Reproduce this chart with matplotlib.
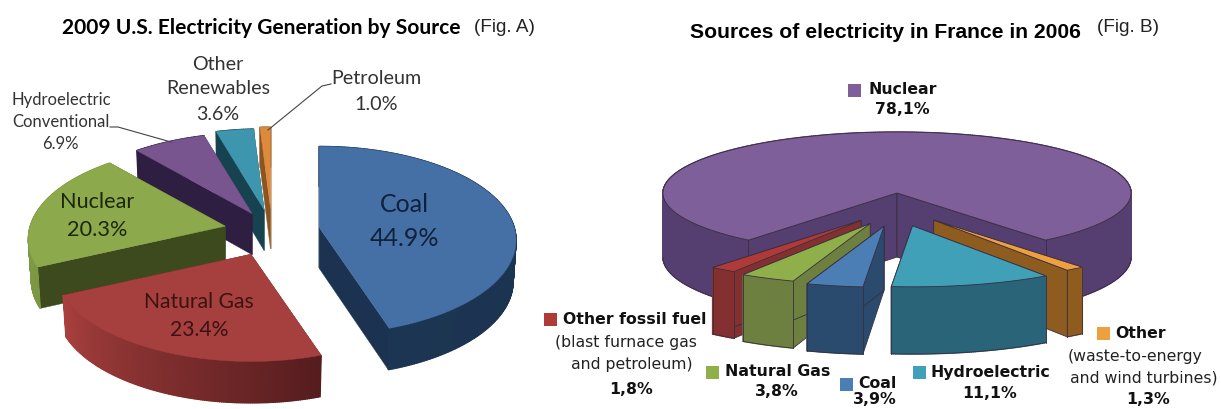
import numpy as np
import matplotlib
matplotlib.use("Agg")
import matplotlib.pyplot as plt
from matplotlib.colors import to_rgb

# ---------- data ----------
us_sources = ["Coal", "Natural Gas", "Nuclear", "Hydroelectric Conventional", "Other Renewables", "Petroleum"]
us_values = [44.9, 23.4, 20.3, 6.9, 3.6, 1.0]
fr_sources = ["Nuclear", "Other", "Hydroelectric", "Coal", "Natural Gas", "Other fossil fuel"]
fr_values = [78.1, 1.3, 11.1, 3.9, 3.8, 1.8]

# ---------- styles ----------
us_top = ["#4570A6", "#A5403F", "#8CA94C", "#79558F", "#3E95AE", "#DE8A3C"]
us_face = ["#1B3350", "#5A1F20", "#3D4A1D", "#2E1E42", "#17424F", "#8A5520"]
us_wall_a = ["#1C3552", "#A8403E", "#84A047", "#2E1E42", "#17424F", "#8A5520"]
us_wall_b = ["#1A314C", "#561C1E", "#7C9643", "#2E1E42", "#17424F", "#8A5520"]
us_explode = [0.245, 0.27, 0.245, 0.21, 0.23, 0.245]
fr_top = ["#7E5F9A", "#EFA03E", "#3FA0B8", "#4A7EB5", "#8FAF4A", "#B03A38"]
fr_face = ["#553F70", "#8F5C20", "#2A6478", "#2A4A6E", "#6E8040", "#843030"]
fr_explode = [0, .26, .26, .26, .26, .26]

fig = plt.figure(figsize=(12.21, 4.09), dpi=100)
ax = fig.add_axes([0, 0, 1, 1])
ax.set_xlim(0, 1221)
ax.set_ylim(409, 0)
ax.axis("off")


def draw_pie(values, cx, cy, rx, ry, depth, persp, explode, ky, shrink, start,
             tops, faces, walls_a, walls_b, order, edge=None):
    vals = np.asarray(values, float)
    frac = vals / vals.sum()
    ends = start - np.cumsum(frac) * 360
    starts = np.r_[start, ends[:-1]]

    for i in order:
        t0, t1 = starts[i], ends[i]
        mid = np.radians((t0 + t1) / 2)
        ex = explode[i]
        ax_, ay_ = cx + ex * rx * np.cos(mid), cy - ex * ky * ry * np.sin(mid)

        def top(t):
            s, c = np.sin(t), np.cos(t)
            sc = 1 - persp * s
            return ax_ + rx * c * sc, ay_ - ry * s * sc

        def low(t):
            s, c = np.sin(t), np.cos(t)
            sc = (1 - persp * s) * shrink
            return ax_ + rx * c * sc, ay_ - ry * s * sc + depth * (1 - 0.05 * s)

        th = np.radians(np.linspace(t0, t1, max(int(abs(t1 - t0)) * 2, 6)))
        apex_low = (ax_, ay_ + depth)
        # radial faces
        for t in (th[0], th[-1]):
            ax.fill([ax_, top(t)[0], low(t)[0], apex_low[0]],
                    [ay_, top(t)[1], low(t)[1], apex_low[1]],
                    fc=faces[i], ec=edge or faces[i], lw=0.6 if edge else 0.3, zorder=2)
        # outer wall, facet by facet along the rim
        ca, cb = np.array(to_rgb(walls_a[i])), np.array(to_rgb(walls_b[i]))
        for j in range(len(th) - 1):
            f = j / max(len(th) - 2, 1)
            col = ca + (cb - ca) * (1 - f)
            p0, p1, q1, q0 = top(th[j]), top(th[j + 1]), low(th[j + 1]), low(th[j])
            ax.fill([p0[0], p1[0], q1[0], q0[0]], [p0[1], p1[1], q1[1], q0[1]],
                    fc=col, ec=col, lw=1.0, zorder=2)
        if edge:
            # only the front half of the lower rim can be seen
            front = th[np.sin(th) <= 0]
            if len(front) > 1:
                gaps = np.where(np.abs(np.diff(front)) > 0.1)[0] + 1
                for part in np.split(front, gaps):
                    xs, ys = zip(*[low(x) for x in part])
                    ax.plot(xs, ys, color=edge, lw=0.6, zorder=2)
            for x in (th[0], th[-1]):
                ax.plot([top(x)[0], low(x)[0]], [top(x)[1], low(x)[1]], color=edge, lw=0.6, zorder=2)
        # top surface
        xs, ys = zip(*[top(x) for x in th])
        ax.fill([ax_, *xs], [ay_, *ys], fc=tops[i], ec=edge or tops[i],
                lw=0.6 if edge else 0.3, zorder=2)


draw_pie(us_values, 272, 231, 195, 94, 41, 0.14, us_explode, 1.0, 0.985, 90,
         us_top, us_face, us_wall_a, us_wall_b, [5, 4, 3, 2, 0, 1])
draw_pie(fr_values, 897, 193, 234, 61, 64, 0.0, fr_explode, 2.14, 1.0, -129.4,
         fr_top, fr_face, fr_face, fr_face, [0, 1, 2, 5, 4, 3], edge="#3A2E40")

# ---------- text helpers ----------
LAT = "Lato"
ARI = "Liberation Sans"
DJ = "DejaVu Sans"


def t(x, y, s, size, family=LAT, weight="normal", ha="center", color="#1a1a1a"):
    ax.text(x, y, s, fontsize=size, family=family, weight=weight, ha=ha, va="center",
            color=color, zorder=5)


# Fig. A
GR = "#333333"
t(62, 28, "2009 U.S. Electricity Generation by Source", 15.1, weight="bold", ha="left", color="black")
t(474, 28, "(Fig. A)", 13.6, family=ARI, ha="left", color="#222222")
t(218, 64, "Other", 14.1, color=GR)
t(218, 89, "Renewables", 14.1, color=GR)
t(218, 115, "3.6%", 14.1, color=GR)
t(376, 79, "Petroleum", 14.2, color=GR)
t(376, 104, "1.0%", 14.2, color=GR)
t(61, 100, "Hydroelectric", 12, color=GR)
t(61, 122, "Conventional", 12, color=GR)
t(60, 144, "6.9%", 12, color=GR)
t(97, 202, "Nuclear", 15.6, color="#1d260a")
t(97, 230, "20.3%", 15.6, color="#1d260a")
t(404, 205, "Coal", 18, color="#12213a")
t(404, 239, "44.9%", 18, color="#12213a")
t(199, 302, "Natural Gas", 15.2, color="#3c1212")
t(199, 330, "23.4%", 15.2, color="#3c1212")
ax.plot([331, 322, 268], [84, 86, 130], color="#444444", lw=0.8, zorder=4)
ax.plot([110, 118, 171], [127, 127, 142], color="#444444", lw=0.8, zorder=4)

# Fig. B
t(690, 32, "Sources of electricity in France in 2006", 15.2, family=ARI, weight="bold", ha="left", color="black")
t(1097, 28, "(Fig. B)", 13.7, family=ARI, ha="left", color="#222222")


def leg(x, y, color):
    ax.fill([x, x + 13, x + 13, x], [y - 6.5, y - 6.5, y + 6.5, y + 6.5], fc=color, ec="none", zorder=4)


BS = 11.3
RS = 11.3
leg(848, 90, fr_top[0])
t(868, 90, "Nuclear", BS, family=DJ, weight="bold", ha="left", color="#111111")
t(902, 110, "78,1%", BS, family=DJ, weight="bold", color="#111111")
leg(544, 319, fr_top[5])
t(563, 319, "Other fossil fuel", BS, family=DJ, weight="bold", ha="left", color="#111111")
t(626, 343, "(blast furnace gas", RS, family=DJ, color="#222222")
t(632, 365, "and petroleum)", RS, family=DJ, color="#222222")
t(631, 390, "1,8%", BS, family=DJ, weight="bold", color="#111111")
leg(706, 372, fr_top[4])
t(725, 372, "Natural Gas", BS, family=DJ, weight="bold", ha="left", color="#111111")
t(777, 392, "3,8%", BS, family=DJ, weight="bold", color="#111111")
leg(840, 384, fr_top[3])
t(858, 384, "Coal", BS, family=DJ, weight="bold", ha="left", color="#111111")
t(875, 400, "3,9%", BS, family=DJ, weight="bold", color="#111111")
leg(913, 372, fr_top[2])
t(931, 372, "Hydroelectric", BS, family=DJ, weight="bold", ha="left", color="#111111")
t(990, 393, "11,1%", BS, family=DJ, weight="bold", color="#111111")
leg(1097, 333, fr_top[1])
t(1115, 333, "Other", BS, family=DJ, weight="bold", ha="left", color="#111111")
t(1135, 356, "(waste-to-energy", RS, family=DJ, color="#222222")
t(1144, 378, "and wind turbines)", RS, family=DJ, color="#222222")
t(1148, 400, "1,3%", BS, family=DJ, weight="bold", color="#111111")

fig.savefig("out.png", dpi=100, facecolor="white")
